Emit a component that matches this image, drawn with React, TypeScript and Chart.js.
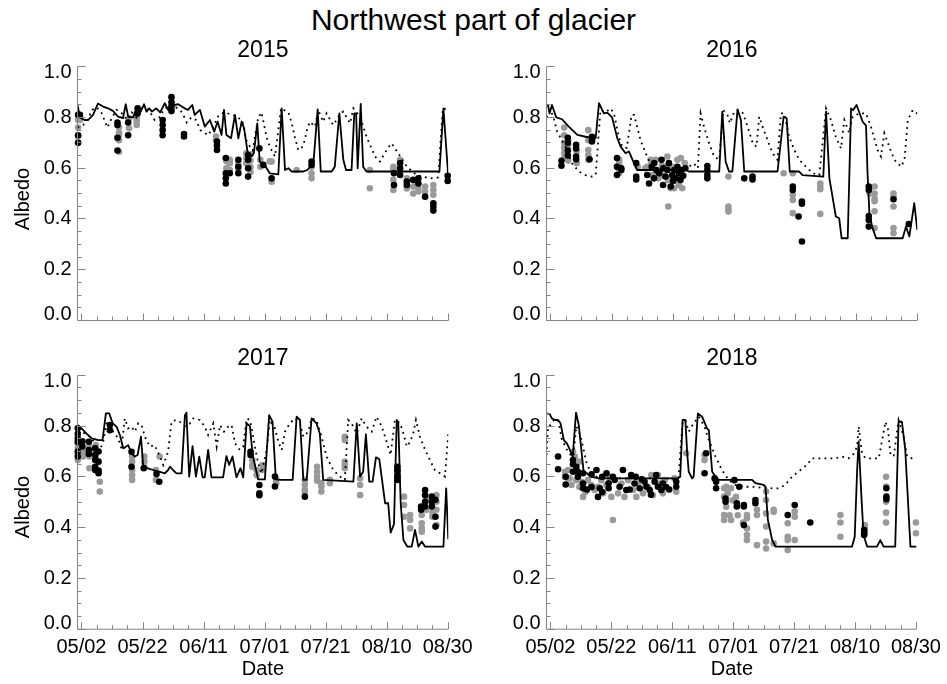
import React, { useEffect, useRef } from 'react';
import { Chart, registerables } from 'chart.js';
Chart.register(...registerables);

type Pair = [number, number];
type Column = [number, number[]];

const FONT = "'Liberation Sans', Arial, Helvetica, sans-serif";
Chart.defaults.font.family = FONT;

// x values are days counted from 05/02
const tickDays = [0, 20, 40, 60, 80, 100, 120];
const tickLabels = ['05/02', '05/22', '06/11', '07/01', '07/21', '08/10', '08/30'];
const yTickValues = [0, 0.2, 0.4, 0.6, 0.8, 1.0];
const yTickLabels = ['0.0', '0.2', '0.4', '0.6', '0.8', '1.0'];
const years = ['2015', '2016', '2017', '2018'];

// ---------- 2015 ----------
const solid2015: Pair[] = [[-1.3,.85],[-0.5,.80],[1,.79],[2.2,.79],[3.8,.81],[5.4,.855],[7.1,.843],[8.7,.836],[10.3,.826],[12,.803],[13.6,.797],[14.5,.852],[15.3,.803],[16.9,.80],[18,.836],[19.4,.823],[20.5,.852],[21.3,.823],[22.2,.836],[23.1,.823],[24.5,.836],[25.8,.82],[27.3,.856],[28.4,.83],[29.3,.856],[30,.849],[31.7,.852],[33.8,.836],[34.9,.83],[36.3,.849],[37.1,.81],[38.8,.83],[40.4,.764],[42.1,.79],[43.5,.744],[44.6,.784],[45.9,.731],[46.7,.83],[47.5,.731],[49,.718],[50.3,.81],[51.4,.718],[52.5,.784],[53.3,.757],[54.4,.665],[55.7,.646],[56.5,.66],[57.6,.777],[58.4,.626],[60,.613],[61.7,.58],[64.5,.576],[65.6,.836],[66.7,.593],[67.8,.60],[68.9,.587],[72.7,.587],[74,.593],[76,.62],[77.4,.832],[78.4,.587],[82,.587],[83,.606],[84.5,.816],[85.8,.633],[86.7,.593],[88.5,.593],[89.4,.816],[90,.816],[90.5,.60],[91.5,.853],[92.3,.606],[93.4,.587],[117.3,.587],[118.6,.836],[120,.60],[120.2,.55]];
const dotted2015: Pair[] = [[-1.3,.76],[0.5,.77],[2,.79],[3.5,.83],[5,.84],[6.5,.82],[8.5,.76],[10,.80],[11.5,.83],[13,.82],[15,.79],[16.5,.82],[18,.80],[20,.84],[22,.83],[24,.79],[25.5,.80],[27,.83],[29,.85],[31,.84],[33,.82],[34.5,.78],[36,.80],[37.5,.79],[39,.75],[41.5,.73],[43,.76],[45,.81],[47,.82],[49.5,.81],[51.4,.80],[52.8,.78],[54,.71],[55,.69],[56.1,.67],[57.9,.80],[59,.82],[60.7,.72],[61.7,.685],[63.4,.646],[65.4,.836],[67.8,.819],[68.9,.777],[69.9,.724],[71,.672],[72.1,.678],[73.2,.711],[74,.757],[74.9,.783],[76.5,.764],[77.6,.829],[79.2,.783],[80.3,.816],[82.5,.77],[84.9,.816],[85.8,.823],[88,.777],[89.1,.836],[91.3,.803],[93.4,.724],[96.2,.646],[97.8,.626],[100,.672],[101.6,.698],[103.8,.659],[106.6,.606],[109.8,.573],[114.2,.56],[116.9,.564],[118.4,.836],[120.2,.829]];
const black2015: Column[] = [[-1.1,[.81,.73,.70]],[-0.5,[.81]],[11.8,[.78,.77,.72,.67]],[15.3,[.78,.73]],[18.4,[.836,.816]],[26.6,[.79,.77,.75,.73]],[29.5,[.88,.86,.845,.825]],[33.6,[.735,.725]],[44.4,[.705,.69,.672]],[47.3,[.64,.58,.56,.54]],[48.6,[.58]],[51.4,[.633,.606,.58]],[54.6,[.652,.633,.60,.567]],[58.3,[.678]],[59.6,[.613]],[62.3,[.56]],[75.4,[.626,.613]],[102.4,[.58,.534]],[104.4,[.62,.60,.573]],[106.6,[.547,.534]],[108.7,[.554]],[110.4,[.56,.54]],[112.6,[.488]],[115.3,[.462,.449,.433]],[120,[.57,.55]]];
const gray2015: Column[] = [[-1.1,[.79,.76,.724,.70]],[-0.5,[.79]],[12.3,[.76,.74,.71,.665,.73]],[15.6,[.797,.757]],[18.1,[.81,.796,.783,.77]],[29.8,[.84]],[44.1,[.725,.71]],[47.5,[.627,.60,.58]],[48.6,[.633,.62,.593]],[51.4,[.62,.593]],[54,[.659,.64,.62]],[55.4,[.655,.63,.605,.585]],[58.6,[.633,.606]],[61.7,[.627]],[62.3,[.626,.547]],[70.5,[.593]],[75.4,[.606,.58,.56]],[94.5,[.593,.521]],[102.2,[.606,.593,.554,.514]],[104.4,[.633,.593]],[106.6,[.56,.52]],[108.7,[.528,.50]],[110.4,[.52,.508]],[112.6,[.528,.508]],[115.3,[.534,.514,.495]]];

// ---------- 2016 ----------
const solid2016: Pair[] = [[-1.3,.85],[-0.8,.849],[-0.3,.816],[0.5,.849],[1.9,.80],[3.8,.793],[6,.764],[8.8,.731],[11.5,.724],[14.8,.718],[15.9,.856],[17.5,.816],[18.6,.819],[20.2,.80],[21.9,.718],[23,.685],[24.6,.659],[25.7,.666],[27.4,.619],[28.4,.593],[44.3,.593],[45.4,.587],[55.3,.587],[56.3,.823],[57.4,.626],[58.5,.587],[59.6,.587],[61.3,.832],[62.4,.79],[63.5,.587],[74.4,.587],[76.4,.803],[77.4,.797],[78.4,.587],[81.5,.587],[82.6,.573],[89.4,.567],[90.3,.823],[91.4,.56],[93.5,.41],[94.6,.403],[95.4,.324],[97.4,.324],[98.5,.836],[99.2,.829],[100.3,.849],[102.3,.783],[103.4,.768],[103.9,.58],[104.5,.423],[105.4,.37],[106.7,.324],[115.4,.324],[116.5,.37],[117.6,.331],[119.2,.462],[120.2,.357]];
const dotted2016: Pair[] = [[-1.3,.80],[0,.83],[1,.80],[2.2,.744],[4.9,.685],[7.1,.619],[9.3,.587],[11.5,.573],[13.5,.567],[14.8,.573],[16.4,.829],[18,.82],[19.7,.836],[20.8,.816],[22.4,.724],[23.5,.685],[25,.68],[26.6,.81],[27.4,.81],[28.4,.764],[29.5,.711],[31.2,.659],[32.8,.619],[34.5,.60],[36,.59],[44,.59],[45.4,.606],[47,.619],[48.3,.60],[49.2,.816],[50.3,.764],[52,.698],[53.6,.646],[55.3,.633],[56.6,.829],[58,.81],[58.8,.777],[60.2,.823],[61.8,.829],[63.1,.816],[64.6,.764],[66.3,.698],[67.5,.685],[68.4,.803],[69.5,.764],[71.1,.711],[72.8,.659],[74.4,.633],[75.5,.816],[76.6,.816],[78.2,.724],[79.9,.672],[81.5,.633],[83.7,.606],[85.9,.58],[88.1,.573],[90.3,.836],[91.9,.79],[93.5,.724],[95.2,.678],[96.3,.79],[97.9,.738],[99,.803],[101.2,.816],[103.4,.816],[105,.764],[107.2,.672],[108.3,.646],[109.4,.738],[111,.685],[112.7,.633],[114.9,.606],[116,.633],[117.1,.79],[118.7,.829],[120.2,.816]];
const black2016: Column[] = [[3.6,[.629,.61]],[5.7,[.72,.70,.67,.65]],[8.4,[.692,.678,.646,.635]],[12.8,[.635]],[13.6,[.724,.71,.705]],[21.8,[.64,.606,.573]],[23.2,[.593,.60]],[28.1,[.62,.567,.556]],[31.7,[.573]],[32.3,[.54]],[33.2,[.606]],[33.9,[.56]],[34,[.62]],[34.7,[.593]],[35.6,[.58]],[36.4,[.633]],[36.9,[.534]],[37,[.60]],[37.7,[.567]],[38.3,[.593]],[38.8,[.62]],[39.4,[.528]],[39.9,[.573]],[40.2,[.55]],[40.6,[.593]],[41,[.56]],[41.6,[.606]],[42.1,[.58]],[42.6,[.554]],[43,[.593]],[43.5,[.57]],[44.2,[.60]],[51.4,[.609,.593,.573,.56]],[63.5,[.56]],[66.2,[.567,.556]],[79.4,[.528,.514]],[81.3,[.41]],[82.4,[.469,.46,.311]],[104.3,[.528,.514,.412,.396,.37]],[112.4,[.478]],[117.4,[.38]]];
const gray2016: Column[] = [[4.5,[.76,.73,.70,.68,.66,.64]],[5.8,[.71,.69,.63]],[8.6,[.666,.62]],[12.4,[.75,.71,.672,.652,.633]],[13.4,[.718]],[22.5,[.633,.62,.606,.593,.58]],[28.6,[.606]],[31,[.60]],[31.7,[.606]],[32.8,[.633]],[33,[.62]],[33.4,[.573]],[34.5,[.633]],[35,[.58]],[35.3,[.56]],[36.1,[.593]],[36.5,[.61]],[37,[.57]],[37.6,[.606]],[38.3,[.646]],[38.5,[.554]],[38.6,[.449]],[39.4,[.521]],[39.9,[.606]],[40,[.55]],[40.5,[.521]],[41.6,[.633]],[42.1,[.534]],[42.5,[.56]],[42.7,[.64]],[43.2,[.521]],[44,[.62]],[58.3,[.567,.449,.436,.429]],[76.4,[.58]],[79.4,[.58,.495,.475,.423]],[88.4,[.54,.528,.517,.42]],[104.6,[.52,.50]],[106.2,[.528,.50,.48,.47,.43,.364]],[112.4,[.50,.488,.449,.364,.344]]];

// ---------- 2017 ----------
const solid2017: Pair[] = [[-1.3,.804],[0,.791],[1.6,.771],[3.3,.752],[5.5,.745],[6.9,.745],[8,.85],[9.1,.85],[10.2,.811],[11.5,.798],[12.6,.765],[13.7,.712],[15.3,.725],[16.4,.692],[17.5,.68],[18.4,.686],[19.5,.758],[20.2,.647],[21.5,.634],[23.5,.627],[25.7,.62],[27.3,.614],[28.4,.627],[29,.64],[30,.627],[31.1,.614],[32.8,.614],[33.9,.843],[34.4,.853],[35.3,.601],[36.4,.721],[37.5,.601],[38.6,.68],[39.7,.598],[40.4,.598],[41.5,.706],[42.6,.598],[46.4,.598],[47.5,.682],[48.4,.647],[49.5,.68],[50.8,.598],[52.1,.634],[53,.598],[54.1,.811],[55.2,.80],[56.1,.686],[57.2,.627],[57.9,.59],[60.1,.59],[61.5,.843],[62.6,.817],[63.7,.59],[65,.588],[69.2,.588],[70.5,.837],[71.6,.824],[72.7,.588],[73.8,.588],[75.4,.83],[77,.811],[78.1,.771],[79.2,.588],[89.1,.581],[90.2,.811],[91.3,.601],[92.3,.62],[93.2,.768],[94.3,.581],[95.4,.581],[96.5,.677],[97.6,.669],[99.5,.496],[100.5,.496],[101.3,.38],[102.4,.414],[103.3,.824],[103.8,.817],[104.6,.496],[105.5,.351],[106.8,.325],[108.2,.325],[109.3,.391],[110.4,.325],[111.5,.345],[112.6,.325],[118.6,.325],[119.5,.555],[120.2,.354]];
const dotted2017: Pair[] = [[-1.3,.78],[1.5,.77],[3.5,.75],[5.5,.70],[7,.73],[8.2,.811],[9.3,.811],[10.4,.778],[12,.752],[13.1,.712],[14.2,.83],[15.3,.791],[16.4,.798],[17.5,.778],[18.6,.811],[19.7,.804],[20.8,.758],[22.4,.719],[24,.725],[25.7,.68],[26.8,.647],[28.4,.699],[29.5,.817],[30.9,.824],[32.2,.817],[34,.80],[35.5,.81],[36.6,.83],[38.8,.824],[40.4,.798],[41.5,.765],[43.2,.811],[44.3,.719],[45.4,.804],[46.7,.778],[48.1,.798],[49.2,.804],[50.3,.732],[51.9,.706],[53,.719],[54.1,.83],[55.2,.824],[56.1,.771],[56.8,.719],[57.9,.653],[59,.614],[60.7,.706],[61.7,.824],[63.4,.791],[64.5,.738],[65.6,.706],[66.7,.778],[68.3,.811],[69.9,.83],[71.6,.811],[72.7,.758],[74.3,.778],[75.4,.83],[77,.824],[78.7,.758],[80.3,.68],[82.5,.627],[84.7,.601],[86.3,.588],[87.4,.824],[88.5,.811],[90.2,.771],[91.8,.83],[93.4,.798],[95.1,.778],[96.7,.837],[98.4,.798],[100,.738],[101.3,.686],[102.7,.824],[104.4,.811],[105.5,.771],[106.6,.719],[107.7,.738],[108.7,.771],[109.6,.824],[110.9,.758],[112.6,.706],[114.2,.666],[115.8,.627],[117.5,.614],[119.1,.601],[120.2,.771]];
const black2017: Column[] = [[-1.2,[.791,.77,.75,.737,.70,.68]],[0.3,[.74,.72]],[2.4,[.738,.706,.69]],[4.5,[.712,.686,.666,.64,.627]],[5.6,[.70,.66,.614,.625]],[9.3,[.804,.784]],[16.4,[.699,.64]],[20.4,[.634]],[24.6,[.611]],[25.5,[.581]],[55.4,[.699,.686]],[58.3,[.568,.535,.528]],[63.4,[.601,.562]],[73.2,[.522]],[103.5,[.64,.625,.603,.588]],[111.3,[.483,.47]],[112.6,[.548,.528,.502,.483]],[114.8,[.522,.502,.483]],[116,[.443,.404,.51]]];
const gray2017: Column[] = [[-1.2,[.758,.732,.715,.69,.666]],[0.5,[.70,.68]],[2.6,[.719,.70,.68,.634]],[4.7,[.725,.692,.673]],[6,[.581,.542]],[16.6,[.68,.66,.627,.607,.588]],[20.6,[.68,.66,.64]],[24.4,[.627,.588]],[25.6,[.68]],[56,[.666,.647,.64]],[57.4,[.627,.607]],[59.3,[.647,.627]],[63.8,[.59,.575]],[73.2,[.588,.57,.55,.54]],[77.2,[.64,.62,.601,.585]],[78.6,[.575,.562,.542]],[81.4,[.588,.575]],[86.3,[.758,.745,.66,.647,.634]],[91.3,[.594,.568,.528]],[105.7,[.522,.489,.443]],[107.7,[.45,.43,.397]],[111.5,[.45,.417,.397,.384]],[113,[.509,.47]],[115,[.496,.46,.443]],[116.3,[.528,.502,.47,.41]]];

// ---------- 2018 ----------
const solid2018: Pair[] = [[-1.3,.85],[-0.3,.848],[0.5,.83],[1.6,.824],[2.5,.824],[3.3,.811],[4.4,.745],[5.5,.73],[6.6,.70],[7.3,.68],[8.4,.853],[9.3,.804],[10.9,.62],[12,.614],[13.1,.601],[15.9,.594],[41.9,.594],[42.6,.60],[43.4,.824],[44.3,.824],[44.9,.693],[45.4,.62],[46.5,.594],[47,.601],[48.4,.85],[49.8,.837],[51.4,.791],[52,.784],[53.1,.62],[54.2,.601],[55.3,.588],[66.2,.588],[67.3,.575],[70,.568],[70.6,.561],[71.4,.43],[72.8,.351],[73.9,.325],[99,.325],[99.9,.364],[100.7,.627],[101.2,.74],[102.1,.522],[102.8,.371],[104,.325],[107.2,.325],[108.3,.351],[109.4,.325],[113.2,.325],[114.3,.817],[115.4,.817],[116.5,.706],[118.2,.325],[120.2,.325]];
const dotted2018: Pair[] = [[-1.3,.686],[-0.8,.798],[0,.804],[1.1,.824],[2.5,.824],[3.8,.745],[6,.693],[7.5,.68],[8.5,.80],[9.8,.765],[10.9,.706],[12,.647],[13.7,.614],[15.9,.594],[40,.594],[41.9,.575],[43.4,.817],[44.3,.824],[45.4,.778],[47,.811],[48.7,.837],[50.5,.80],[52,.745],[54.2,.68],[56.3,.627],[58.5,.588],[60.7,.568],[64,.561],[66.2,.561],[69,.558],[72.8,.555],[74.9,.555],[77.1,.568],[79.3,.601],[82.1,.627],[84.2,.647],[85.9,.673],[93.5,.673],[95.7,.68],[97.9,.673],[99.5,.69],[100.7,.719],[101.2,.798],[102.3,.693],[103.4,.673],[107.8,.673],[109.1,.758],[110,.817],[110.8,.791],[111.6,.693],[112.7,.68],[114.3,.824],[116,.758],[117.1,.68],[118.7,.673],[120.2,.673]];
const black2018: Column[] = [[2.5,[.68,.63]],[5,[.60,.57]],[7.4,[.666,.62,.65]],[8.5,[.64]],[9,[.62,.60]],[10.7,[.614,.574,.555]],[12,[.55]],[13.5,[.61,.56]],[15.1,[.627]],[15.6,[.521]],[16.2,[.555]],[17,[.60,.54]],[18.4,[.614]],[19.1,[.555,.575]],[20.5,[.60]],[21.1,[.588]],[22.7,[.561]],[23.8,[.627]],[24.9,[.548]],[26,[.55]],[26.5,[.607]],[27.6,[.574]],[28,[.60]],[29.3,[.555]],[30,[.59]],[30.9,[.581]],[31.5,[.561]],[32.6,[.548]],[33,[.53]],[34.2,[.581]],[34.7,[.607]],[35.3,[.561]],[36.4,[.548]],[36.9,[.574]],[38,[.56]],[39,[.55]],[41.3,[.561,.581]],[50.6,[.614]],[51.1,[.693]],[53.9,[.594]],[54.4,[.581,.555]],[57.5,[.515,.502]],[60.4,[.587]],[61.2,[.496,.483]],[62,[.561]],[63.5,[.489,.483,.41]],[67.3,[.509,.496]],[77.9,[.45]],[80.2,[.489]],[85.3,[.42]],[103,[.391,.378,.371]],[110.3,[.555,.522,.512]]];
const gray2018: Column[] = [[4.8,[.62,.60]],[5.8,[.627,.594]],[6.3,[.594]],[6.9,[.568]],[7.4,[.699]],[8,[.68]],[8.5,[.587]],[9.5,[.66,.56]],[10.2,[.581]],[10.7,[.521]],[11.5,[.54]],[12.3,[.587]],[13.4,[.568]],[14.5,[.548]],[15.6,[.561]],[16.7,[.587]],[17.3,[.535]],[18.4,[.568]],[19.4,[.60]],[20,[.521]],[20.5,[.43]],[22.2,[.535]],[23.3,[.574]],[24.3,[.521]],[25.5,[.587]],[27.1,[.548]],[28.2,[.521]],[28.7,[.574]],[30.4,[.535]],[32,[.561]],[33.1,[.607]],[33.6,[.528]],[35.3,[.607]],[35.8,[.574]],[36.9,[.535]],[37.5,[.587]],[40.7,[.594]],[41.3,[.541]],[44.6,[.693]],[50.6,[.686,.666]],[57,[.555,.522,.45,.43]],[57.7,[.561,.482]],[58.2,[.535]],[58.8,[.449]],[59.3,[.555,.43]],[59.8,[.508]],[60.9,[.521]],[61.5,[.449]],[63.2,[.42]],[64.5,[.45,.437,.397,.371,.351]],[67.8,[.47,.45,.331]],[70.8,[.542,.509,.456,.404,.345,.318]],[73.3,[.47,.463,.338]],[77.9,[.417,.364,.351,.312]],[80.2,[.463,.443,.351]],[95.2,[.45,.42,.364]],[103.2,[.41,.40,.385]],[110.2,[.60,.562,.502,.459,.42]],[120,[.42,.378]]];

const toXY = (p: Pair[]) => p.map(([x, y]) => ({ x, y }));
const colsToXY = (c: Column[]) => c.flatMap(([x, vs]) => vs.map((y) => ({ x, y })));

const Y_AXIS_W = 50;
const X_AXIS_H = 40;

const idlAxes = {
  id: 'idlAxes',
  afterDatasetsDraw(chart: any) {
    const { ctx, chartArea, scales } = chart;
    const { left, right, top, bottom } = chartArea;
    const xs = scales.x;
    const ys = scales.y;
    ctx.save();
    ctx.strokeStyle = '#858585';
    ctx.lineWidth = 1;
    ctx.beginPath();
    ctx.moveTo(left, top);
    ctx.lineTo(left, bottom);
    ctx.lineTo(right, bottom);
    for (let d = 0; d <= 120; d += 5) {
      const px = Math.round(xs.getPixelForValue(d)) + 0.5;
      const len = d % 20 === 0 ? 7 : 4;
      ctx.moveTo(px, bottom);
      ctx.lineTo(px, bottom - len);
    }
    for (let i = 0; i <= 20; i++) {
      const py = Math.round(ys.getPixelForValue(i * 0.05) - 0.5) + 0.5;
      const len = i % 4 === 0 ? 8 : 4;
      ctx.moveTo(left, py);
      ctx.lineTo(left + len, py);
    }
    ctx.stroke();
    ctx.restore();
  },
};

interface PanelProps {
  solid: Pair[];
  dotted: Pair[];
  black: Column[];
  gray: Column[];
  box: { l: number; t: number; r: number; b: number };
  showX: boolean;
}

function Panel({ solid, dotted, black, gray, box, showX }: PanelProps) {
  const ref = useRef<HTMLCanvasElement>(null);
  useEffect(() => {
    const lastY = yTickValues.length - 1;
    const chart = new Chart(ref.current as HTMLCanvasElement, {
      type: 'scatter',
      data: {
        datasets: [
          { type: 'line', data: toXY(solid), borderColor: '#000', borderWidth: 1.8, pointRadius: 0, pointHoverRadius: 0, tension: 0, fill: false, borderJoinStyle: 'round', order: 0 } as any,
          { type: 'line', data: toXY(dotted), borderColor: '#000', borderWidth: 1.8, borderDash: [1.8, 4.2], pointRadius: 0, pointHoverRadius: 0, tension: 0, fill: false, order: 1 } as any,
          { type: 'scatter', data: colsToXY(black), backgroundColor: '#000', borderWidth: 0, pointRadius: 3.3, pointHoverRadius: 3.3, order: 2, clip: 6 } as any,
          { type: 'scatter', data: colsToXY(gray), backgroundColor: '#9a9a9a', borderWidth: 0, pointRadius: 3.3, pointHoverRadius: 3.3, order: 3, clip: 6 } as any,
        ],
      },
      options: {
        animation: false,
        responsive: false,
        maintainAspectRatio: false,
        events: [],
        layout: { padding: { left: box.l - Y_AXIS_W, top: box.t, right: 947 - box.r, bottom: 684 - box.b - X_AXIS_H } },
        plugins: { legend: { display: false }, tooltip: { enabled: false }, title: { display: false } },
        scales: {
          x: {
            type: 'linear',
            min: -1.3,
            max: 120.2,
            afterFit: (s: any) => { s.height = X_AXIS_H; },
            afterBuildTicks: (s: any) => { s.ticks = tickDays.map((value) => ({ value })); },
            grid: { display: false, drawTicks: false },
            border: { display: false },
            ticks: {
              display: showX,
              autoSkip: false,
              maxRotation: 0,
              minRotation: 0,
              padding: 6,
              color: '#000',
              font: { size: 20, family: FONT, lineHeight: 1.2 },
              callback: (v: any) => tickLabels[tickDays.indexOf(Number(v))] ?? '',
            },
          },
          y: {
            type: 'linear',
            min: 0,
            max: 1.0,
            afterFit: (s: any) => { s.width = Y_AXIS_W; },
            afterBuildTicks: (s: any) => { s.ticks = yTickValues.map((value) => ({ value })); },
            grid: { display: false, drawTicks: false },
            border: { display: false },
            ticks: {
              padding: 6,
              color: '#000',
              autoSkip: false,
              font: (c: any) => ({ size: 20, family: FONT, lineHeight: c.index === 0 || c.index === lastY ? 0.6 : 1.2 }),
              callback: (_v: any, i: number) =>
                i === lastY ? ['', yTickLabels[i]] : i === 0 ? [yTickLabels[i], ''] : yTickLabels[i],
            },
          },
        },
      } as any,
      plugins: [idlAxes],
    });
    return () => chart.destroy();
  }, []);
  return (
    <canvas
      ref={ref}
      width={947}
      height={684}
      style={{ position: 'absolute', left: 0, top: 0, width: 947, height: 684, pointerEvents: 'none' }}
    />
  );
}

const panelBoxes = [
  { l: 77.5, t: 66.7, r: 448.3, b: 320.5 },
  { l: 546.5, t: 66.7, r: 917.3, b: 320.5 },
  { l: 77.5, t: 375.3, r: 448.3, b: 629.2 },
  { l: 546.5, t: 375.3, r: 917.3, b: 629.2 },
];
const panelData = [
  { solid: solid2015, dotted: dotted2015, black: black2015, gray: gray2015 },
  { solid: solid2016, dotted: dotted2016, black: black2016, gray: gray2016 },
  { solid: solid2017, dotted: dotted2017, black: black2017, gray: gray2017 },
  { solid: solid2018, dotted: dotted2018, black: black2018, gray: gray2018 },
];

const textStyle: React.CSSProperties = { position: 'absolute', color: '#000', whiteSpace: 'nowrap', textAlign: 'center' };

export default function App() {
  return (
    <div style={{ position: 'absolute', left: 0, top: 0, width: 947, height: 684, background: '#fff', fontFamily: FONT, overflow: 'hidden' }}>
      <div style={{ ...textStyle, left: 0, top: 5, width: 947, fontSize: 30, lineHeight: '30px' }}>Northwest part of glacier</div>
      {panelBoxes.map((box, i) => (
        <React.Fragment key={years[i]}>
          <Panel {...panelData[i]} box={box} showX={i >= 2} />
          <div style={{ ...textStyle, left: (box.l + box.r) / 2 - 100, width: 200, top: box.t - 6 - 24, fontSize: 23, lineHeight: '24px' }}>{years[i]}</div>
        </React.Fragment>
      ))}
      {[panelBoxes[0], panelBoxes[2]].map((box, i) => (
        <div key={'a' + i} style={{ ...textStyle, left: 22 - 50, width: 100, top: (box.t + box.b) / 2 - 12 + 5, fontSize: 20, lineHeight: '24px', transform: 'rotate(-90deg)' }}>Albedo</div>
      ))}
      {[panelBoxes[2], panelBoxes[3]].map((box, i) => (
        <div key={'d' + i} style={{ ...textStyle, left: (box.l + box.r) / 2 - 50, width: 100, top: 656, fontSize: 20, lineHeight: '24px' }}>Date</div>
      ))}
    </div>
  );
}
